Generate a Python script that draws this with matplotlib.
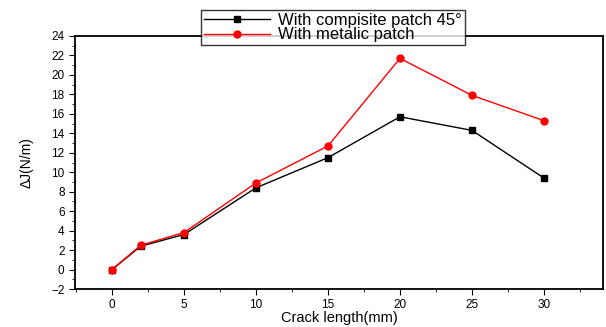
import matplotlib
matplotlib.use("Agg")
import matplotlib.pyplot as plt
from matplotlib.ticker import MultipleLocator

plt.rcParams['font.family'] = ['Liberation Sans', 'DejaVu Sans']

crack = [0, 2, 5, 10, 15, 20, 25, 30]
composite = [0.0, 2.4, 3.6, 8.4, 11.5, 15.7, 14.3, 9.4]
metallic = [0.0, 2.5, 3.8, 8.9, 12.7, 21.7, 17.9, 15.3]

fig = plt.figure(figsize=(6.06, 3.27), dpi=100)
ax = fig.add_axes([75/606, 1 - 289/327, (603-75)/606, (289-36)/327])

ax.plot(crack, composite, color='black', marker='s', markersize=4, lw=1.0,
        label='With compisite patch 45°')
ax.plot(crack, metallic, color='red', marker='o', markersize=5, lw=1.0,
        label='With metalic patch')

ax.set_xlim(-2.57, 34.1)
ax.set_ylim(-2, 24)
ax.xaxis.set_major_locator(MultipleLocator(5))
ax.xaxis.set_minor_locator(MultipleLocator(2.5))
ax.yaxis.set_major_locator(MultipleLocator(2))
ax.yaxis.set_minor_locator(MultipleLocator(1))
ax.tick_params(which='both', direction='out', top=False, right=False, labelsize=8.5)
ax.tick_params(which='major', length=4)
ax.tick_params(which='minor', length=2.5)
for s in ax.spines.values():
    s.set_linewidth(1.3)

ax.set_xlabel('Crack length(mm)', fontsize=10.5, labelpad=0)
ax.set_ylabel('ΔJ(N/m)', fontsize=10, labelpad=13)

leg = fig.legend(loc='upper left', bbox_to_anchor=(201/606, 1 - 10/327), fontsize=12,
                 frameon=True, fancybox=False, edgecolor='black', borderpad=0.15,
                 labelspacing=0.0, handlelength=4.0, borderaxespad=0, handletextpad=0.5)
leg.get_frame().set_linewidth(1.0)

fig.savefig('out.png', dpi=100)
